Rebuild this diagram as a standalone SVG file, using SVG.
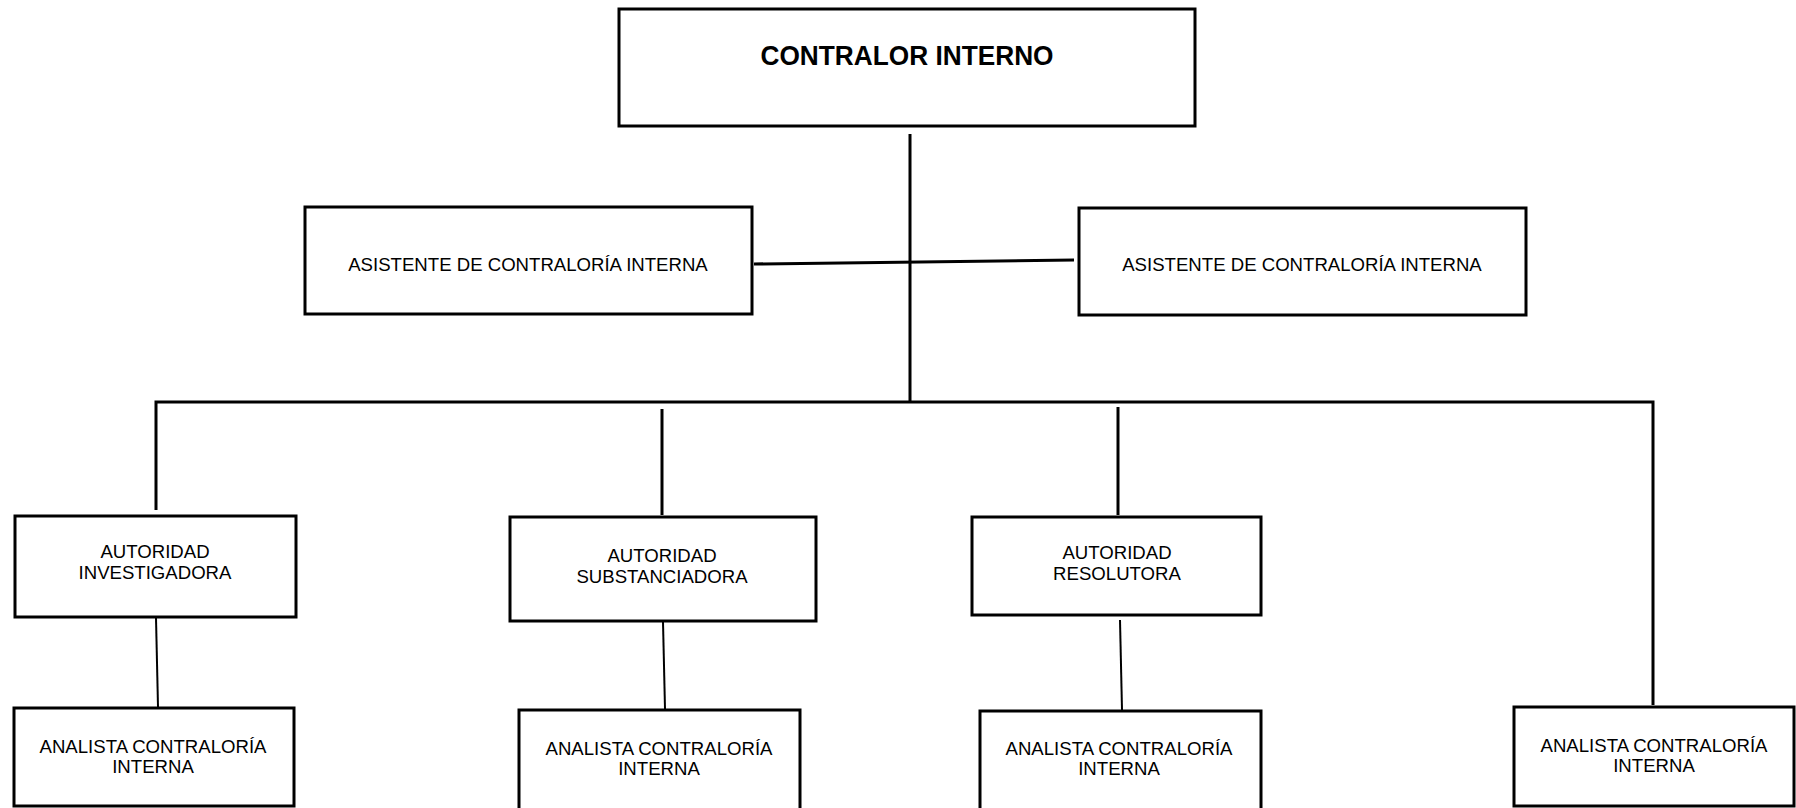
<svg xmlns="http://www.w3.org/2000/svg" width="1796" height="808" viewBox="0 0 1796 808">
<style>
.box{fill:#fff;stroke:#000;stroke-width:3}
.t{font-family:"Liberation Sans",Arial,sans-serif;font-size:18.6px;fill:#000;text-anchor:middle}
.title{font-family:"Liberation Sans",Arial,sans-serif;font-size:27px;font-weight:bold;fill:#000;text-anchor:middle}
.c{stroke:#000;stroke-width:3;fill:none}
.thin{stroke:#000;stroke-width:2;fill:none}
</style>
<rect width="1796" height="808" fill="#fff"/>
<g id="connectors">
<line class="c" x1="910" y1="134" x2="910" y2="402"/>
<line class="c" x1="754" y1="264" x2="1074" y2="260" stroke-width="3.5"/>
<polyline class="c" points="156,510 156,402 1653,402 1653,705"/>
<line class="c" x1="662" y1="409" x2="662" y2="515"/>
<line class="c" x1="1118" y1="407" x2="1118" y2="515"/>
<line class="thin" x1="156" y1="618" x2="158" y2="707"/>
<line class="thin" x1="663" y1="622" x2="665" y2="709"/>
<line class="thin" x1="1120" y1="620" x2="1122" y2="710"/>
</g>
<g id="contralor">
<rect class="box" x="619" y="9" width="576" height="117"/>
<text class="title" x="907" y="65" textLength="293" lengthAdjust="spacingAndGlyphs">CONTRALOR INTERNO</text>
</g>
<g id="asistente-izq">
<rect class="box" x="305" y="207" width="447" height="107"/>
<text class="t" x="528" y="271">ASISTENTE DE CONTRALORÍA INTERNA</text>
</g>
<g id="asistente-der">
<rect class="box" x="1079" y="208" width="447" height="107"/>
<text class="t" x="1302" y="271">ASISTENTE DE CONTRALORÍA INTERNA</text>
</g>
<g id="investigadora">
<rect class="box" x="15" y="516" width="281" height="101"/>
<text class="t" x="155" y="558">AUTORIDAD</text>
<text class="t" x="155" y="579">INVESTIGADORA</text>
</g>
<g id="substanciadora">
<rect class="box" x="510" y="517" width="306" height="104"/>
<text class="t" x="662" y="562">AUTORIDAD</text>
<text class="t" x="662" y="583">SUBSTANCIADORA</text>
</g>
<g id="resolutora">
<rect class="box" x="972" y="517" width="289" height="98"/>
<text class="t" x="1117" y="559">AUTORIDAD</text>
<text class="t" x="1117" y="580">RESOLUTORA</text>
</g>
<g id="analista-1">
<rect class="box" x="14" y="708" width="280" height="98"/>
<text class="t" x="153" y="753">ANALISTA CONTRALORÍA</text>
<text class="t" x="153" y="773">INTERNA</text>
</g>
<g id="analista-2">
<rect class="box" x="519" y="710" width="281" height="104"/>
<text class="t" x="659" y="755">ANALISTA CONTRALORÍA</text>
<text class="t" x="659" y="775">INTERNA</text>
</g>
<g id="analista-3">
<rect class="box" x="980" y="711" width="281" height="103"/>
<text class="t" x="1119" y="755">ANALISTA CONTRALORÍA</text>
<text class="t" x="1119" y="775">INTERNA</text>
</g>
<g id="analista-4">
<rect class="box" x="1514" y="707" width="280" height="99"/>
<text class="t" x="1654" y="752">ANALISTA CONTRALORÍA</text>
<text class="t" x="1654" y="772">INTERNA</text>
</g>
</svg>
